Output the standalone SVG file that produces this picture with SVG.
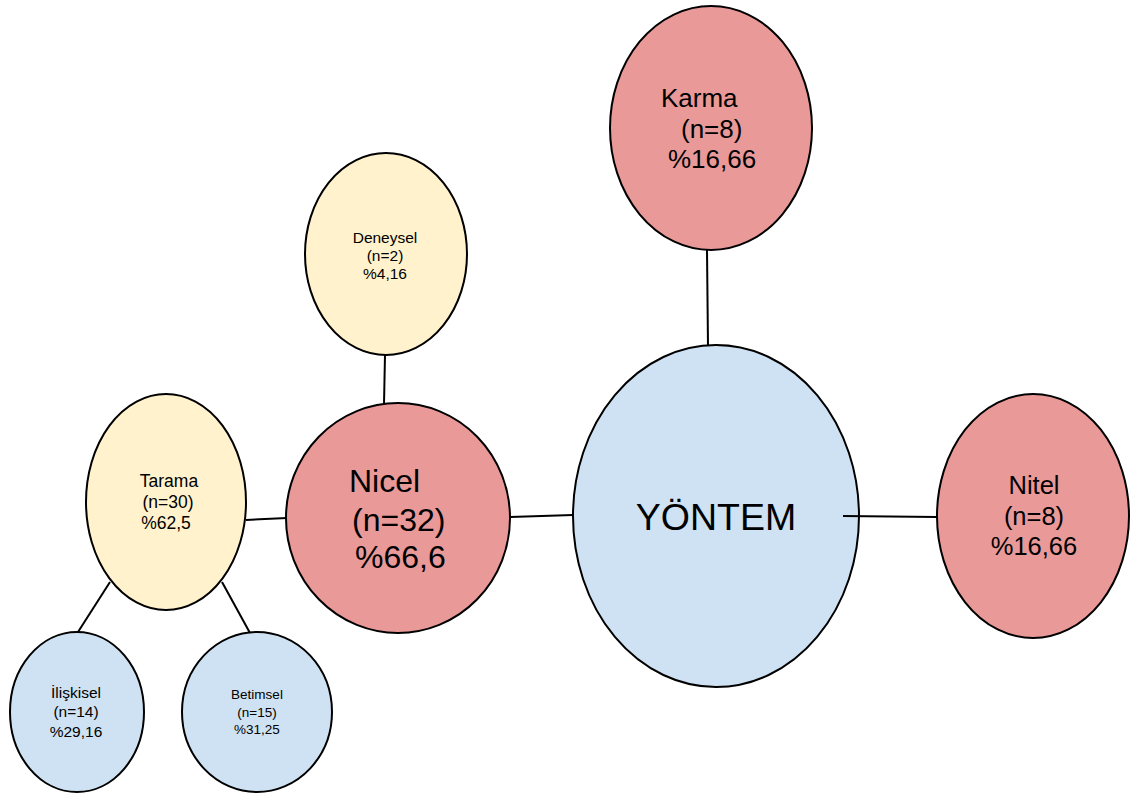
<svg xmlns="http://www.w3.org/2000/svg" width="1132" height="796" viewBox="0 0 1132 796">
<style>
.n{stroke:#000;stroke-width:2}
.r{fill:#ea9999}.y{fill:#fff2cc}.b{fill:#cfe2f3}
.c line{stroke:#000;stroke-width:2}
text{font-family:"Liberation Sans",Arial,sans-serif;fill:#000}
.m{text-anchor:middle}
</style>
<rect width="1132" height="796" fill="#fff"/>
<g id="yontem"><ellipse class="n b" cx="716" cy="516" rx="143" ry="171"/><text class="m" x="716" y="530" font-size="37.5">YÖNTEM</text></g>
<g id="karma"><ellipse class="n r" cx="711" cy="128" rx="101" ry="122"/>
<text x="661" y="107" font-size="26">Karma</text><text x="681" y="138" font-size="26">(n=8)</text><text x="668" y="168" font-size="26">%16,66</text></g>
<g id="nitel"><ellipse class="n r" cx="1033" cy="516" rx="96" ry="122"/>
<text class="m" x="1034" y="494" font-size="25.5">Nitel</text><text class="m" x="1034" y="525" font-size="25.5">(n=8)</text><text class="m" x="1034" y="555" font-size="25.5">%16,66</text></g>
<g id="nicel"><ellipse class="n r" cx="398" cy="518" rx="112" ry="115"/>
<text x="349" y="492" font-size="32">Nicel</text><text x="352" y="531" font-size="32">(n=32)</text><text x="355" y="568" font-size="32">%66,6</text></g>
<g id="deneysel"><ellipse class="n y" cx="386" cy="254" rx="81" ry="101"/>
<text class="m" x="385" y="243" font-size="15.5">Deneysel</text><text class="m" x="385" y="261" font-size="15.5">(n=2)</text><text class="m" x="385" y="279" font-size="15.5">%4,16</text></g>
<g id="tarama"><ellipse class="n y" cx="166" cy="502" rx="80" ry="108"/>
<text class="m" x="169" y="487" font-size="17.5">Tarama</text><text class="m" x="168" y="508" font-size="17.5">(n=30)</text><text class="m" x="166" y="529" font-size="17.5">%62,5</text></g>
<g id="iliskisel"><ellipse class="n b" cx="77" cy="712" rx="67" ry="80"/>
<text class="m" x="76" y="698" font-size="15.5">İlişkisel</text><text class="m" x="76" y="717" font-size="15.5">(n=14)</text><text class="m" x="76" y="737" font-size="15.5">%29,16</text></g>
<g id="betimsel"><ellipse class="n b" cx="257" cy="712" rx="75" ry="80"/>
<text class="m" x="257" y="699" font-size="13.5">Betimsel</text><text class="m" x="257" y="717" font-size="13.5">(n=15)</text><text class="m" x="257" y="734" font-size="13.5">%31,25</text></g>
<g class="c">
<line x1="707" y1="250" x2="708" y2="346"/>
<line x1="843" y1="516" x2="937" y2="517"/>
<line x1="510" y1="517" x2="573" y2="515"/>
<line x1="385" y1="355" x2="384" y2="404"/>
<line x1="246" y1="520" x2="287" y2="518"/>
<line x1="110" y1="582" x2="78" y2="632"/>
<line x1="222" y1="582" x2="250" y2="633"/>
</g>
</svg>
